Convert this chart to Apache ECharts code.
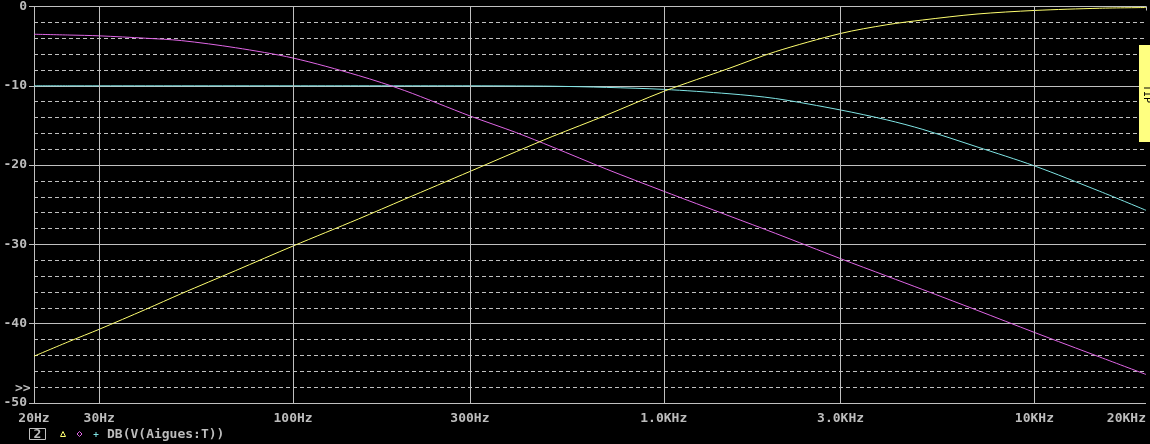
<!DOCTYPE html>
<html>
<head>
<meta charset="utf-8">
<style>
html,body{margin:0;padding:0;background:#000;}
#c{width:1150px;height:444px;}
</style>
<script src="https://cdn.jsdelivr.net/npm/echarts@6/dist/echarts.min.js"></script>
</head>
<body>
<div id="c"></div>
<script>
// Frequencies (Hz)
const freqs = [20, 25, 30, 40, 50, 70, 100, 150, 200, 300, 400, 500, 700, 1000, 1500, 2000, 3000, 4000, 5000, 7000, 10000, 15000, 20000];
// Yellow trace (dB)
const yellowDb = [-44.1, -42.2, -40.7, -38.2, -36.2, -33.3, -30.2, -26.8, -24.3, -20.8, -18.3, -16.4, -13.7, -10.7, -7.8, -5.7, -3.4, -2.3, -1.7, -0.95, -0.5, -0.22, -0.13];
// Magenta trace (dB)
const magentaDb = [-3.5, -3.6, -3.7, -4.0, -4.3, -5.2, -6.5, -8.7, -10.6, -13.8, -15.9, -17.7, -20.5, -23.3, -26.4, -28.6, -31.8, -34.0, -35.7, -38.3, -41.1, -44.2, -46.4];
// Cyan trace (dB)
const cyanDb = [-10.0, -10.0, -10.0, -10.0, -10.0, -10.0, -10.0, -10.0, -10.0, -10.0, -10.02, -10.05, -10.2, -10.45, -11.0, -11.6, -13.05, -14.3, -15.5, -17.7, -20.1, -23.3, -25.7];
// X tick values and labels
const xTickValues = [20, 30, 100, 300, 1000, 3000, 10000, 20000];
const xTickLabels = ['20Hz', '30Hz', '100Hz', '300Hz', '1.0KHz', '3.0KHz', '10KHz', '20KHz'];
const xGridValues = [30, 100, 300, 1000, 3000, 10000];
// Y tick labels
const yTickValues = [0, -10, -20, -30, -40, -50];
const yTickLabels = ['0', '-10', '-20', '-30', '-40', '-50'];

const GRID = '#c0c0c0';
const TXT = '#bcbcbc';
const FONT = 'DejaVu Sans Mono';

function pairs(ys){ return freqs.map((f,i)=>[f, ys[i]]); }

const chart = echarts.init(document.getElementById('c'), null, {renderer:'canvas'});
chart.setOption({
  backgroundColor: '#000',
  animation: false,
  grid: {left: 34, right: 4, top: 5, bottom: 41},
  xAxis: {
    type: 'log', logBase: 10, min: 20, max: 20000,
    axisLine: {show: true, lineStyle: {color: GRID, width: 1}},
    axisTick: {show: true, length: 4, lineStyle: {color: GRID}, customValues: xTickValues},
    splitLine: {show: false},
    minorTick: {show: false},
    axisLabel: {
      customValues: xTickValues,
      color: TXT, fontFamily: FONT, fontWeight: 'bold', fontSize: 13, margin: 9,
      alignMaxLabel: 'right',
      formatter: function(v){
        for (let i = 0; i < xTickValues.length; i++) {
          if (Math.abs(xTickValues[i] - v) / xTickValues[i] < 1e-6) return xTickLabels[i];
        }
        return '';
      }
    }
  },
  yAxis: [
    {
      type: 'value', min: -50, max: 0, interval: 2,
      axisLine: {show: false}, axisTick: {show: false}, axisLabel: {show: false},
      splitLine: {show: true, lineStyle: {color: GRID, width: 1, type: [4, 3]}}
    },
    {
      type: 'value', min: -50, max: 0, interval: 10, position: 'left',
      axisLine: {show: true, lineStyle: {color: GRID, width: 1}},
      axisTick: {show: true, length: 5, lineStyle: {color: GRID}},
      splitLine: {show: true, lineStyle: {color: GRID, width: 1, type: 'solid'}},
      axisLabel: {
        color: TXT, fontFamily: FONT, fontWeight: 'bold', fontSize: 13, margin: 7,
        formatter: function(v){
          const i = yTickValues.indexOf(v);
          return i >= 0 ? yTickLabels[i] : '';
        }
      }
    }
  ],
  series: [
    {
      type: 'line', data: [], z: 1, silent: true,
      markLine: {
        silent: true, symbol: 'none', label: {show: false},
        lineStyle: {color: GRID, width: 1, type: 'solid'},
        data: xGridValues.map(v => ({xAxis: v}))
      }
    },
    {type: 'line', name: 'cyan', data: pairs(cyanDb), smooth: 0.3, showSymbol: false, z: 3,
     lineStyle: {color: '#80e6e6', width: 1}},
    {type: 'line', name: 'magenta', data: pairs(magentaDb), smooth: 0.3, showSymbol: false, z: 3,
     lineStyle: {color: '#e066e6', width: 1}},
    {type: 'line', name: 'yellow', data: pairs(yellowDb), smooth: 0.3, showSymbol: false, z: 4,
     lineStyle: {color: '#ffff70', width: 1}}
  ],
  graphic: [
    {type: 'text', left: 15, top: 382, style: {text: '>>', fill: TXT, font: 'bold 13px ' + FONT}},
    {type: 'rect', shape: {x: 29.5, y: 428.5, width: 16, height: 11}, style: {fill: 'none', stroke: GRID, lineWidth: 1}},
    {type: 'text', x: 37.5, y: 434.5, style: {text: '2', fill: TXT, font: 'bold 13px ' + FONT, align: 'center', verticalAlign: 'middle'}},
    {type: 'polygon', shape: {points: [[63, 431.5], [60.5, 436.5], [65.5, 436.5]]}, style: {fill: 'none', stroke: '#ffff70', lineWidth: 1}},
    {type: 'polygon', shape: {points: [[79.5, 431.5], [82, 434], [79.5, 436.5], [77, 434]]}, style: {fill: 'none', stroke: '#e066e6', lineWidth: 1}},
    {type: 'polyline', shape: {points: [[93.5, 434.5], [98.5, 434.5]]}, style: {stroke: '#80e6e6', lineWidth: 1}},
    {type: 'polyline', shape: {points: [[96, 432], [96, 437]]}, style: {stroke: '#80e6e6', lineWidth: 1}},
    {type: 'text', x: 107, y: 434.5, style: {text: 'DB(V(Aigues:T))', fill: TXT, font: 'bold 13px ' + FONT, verticalAlign: 'middle'}},
    {type: 'rect', shape: {x: 1139, y: 45, width: 12, height: 97}, style: {fill: '#ffff80'}, z: 10},
    {type: 'text', x: 1147, y: 94, rotation: -Math.PI / 2, z: 11,
     style: {text: 'TIP', fill: '#000', font: '10px ' + FONT, align: 'center', verticalAlign: 'middle'}}
  ]
});
</script>
</body>
</html>
